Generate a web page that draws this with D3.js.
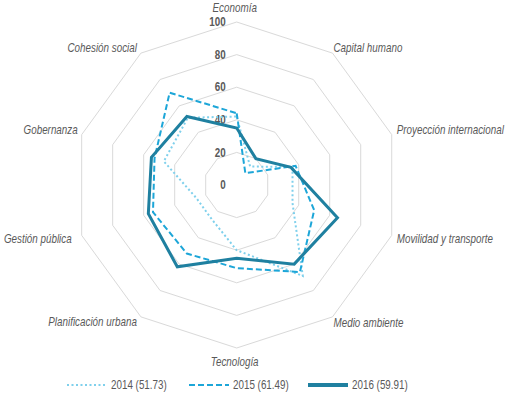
<!DOCTYPE html>
<html><head><meta charset="utf-8">
<script src="https://cdn.jsdelivr.net/npm/d3@7"></script>
<style>
html,body{margin:0;padding:0;background:#fff;}
svg{display:block;}
</style></head>
<body>
<svg id="chart" width="509" height="394"></svg>
<script>
const categories = ["Economía","Capital humano","Proyección internacional","Movilidad y transporte","Medio ambiente","Tecnología","Planificación urbana","Gestión pública","Gobernanza","Cohesión social"];
const v2014 = [42, 14, 36, 36, 69, 40, 26, 26, 47, 51];
const v2015 = [44, 9, 38, 50, 66, 51, 52, 54, 53, 70];
const v2016 = [35, 20, 35, 65, 60, 45, 62, 57, 55, 52];
const seriesNames = ["2014 (51.73)", "2015 (61.49)", "2016 (59.91)"];
const tickValues = [0, 20, 40, 60, 80, 100];

const W = 509, H = 394;
const cx = 236.7, cy = 185, R = 163;
const SX = 0.82; // horizontal condensing (Arial Narrow look)
const font = "'Liberation Sans',Arial,sans-serif";
const svg = d3.select("#chart");

const r = d3.scaleLinear().domain([0, 100]).range([0, R]);
const angle = d3.scalePoint().domain(categories).range([0, 2*Math.PI*(categories.length-1)/categories.length]);
const pt = (cat, v) => [cx + r(v)*Math.sin(angle(cat)), cy - r(v)*Math.cos(angle(cat))];

function narrowText(parent, x, y, txt, opts) {
  return parent.append("text")
    .attr("transform", `translate(${x},${y}) scale(${SX},1)`)
    .attr("dy", "0.35em")
    .attr("text-anchor", opts.anchor || "start")
    .attr("font-family", font)
    .attr("font-size", opts.size || 12)
    .attr("font-weight", opts.weight || "normal")
    .attr("font-style", opts.style || "normal")
    .attr("fill", "#595959")
    .text(txt);
}

// grid rings
const ringLine = d3.line().curve(d3.curveLinearClosed);
tickValues.filter(t => t > 0).forEach(t => {
  svg.append("path")
    .attr("d", ringLine(categories.map(c => pt(c, t))))
    .attr("fill", "none").attr("stroke", "#d9d9d9").attr("stroke-width", 1);
});

// tick labels
tickValues.forEach(t => {
  narrowText(svg, cx - 11, cy - r(t), t, {anchor: "end", weight: "bold", size: 12});
});

// series
const series = [
  {name: seriesNames[0], values: v2014, color: "#7fd0ec", width: 2, dash: "2,2.5"},
  {name: seriesNames[1], values: v2015, color: "#1da6d8", width: 2, dash: "6,3"},
  {name: seriesNames[2], values: v2016, color: "#1f80a0", width: 3, dash: null}
];
series.forEach(s => {
  svg.append("path")
    .attr("d", ringLine(categories.map((c, i) => pt(c, s.values[i]))))
    .attr("fill", "none").attr("stroke", s.color).attr("stroke-width", s.width)
    .attr("stroke-dasharray", s.dash).attr("stroke-linejoin", "miter");
});

// axis labels
categories.forEach(c => {
  const a = angle(c);
  const [vx, vy] = pt(c, 100);
  const s = Math.sin(a);
  const up = Math.cos(a) > 0;
  let anchor = "middle", x = vx, y = vy;
  if (Math.abs(s) < 0.01) {
    x = vx - 2;
    y = up ? vy - 14 : vy + 14;
  } else if (s > 0) {
    anchor = "start";
    x = vx + (s > 0.9 ? 5 : 1);
    y = vy + (up ? -5 : (s > 0.9 ? 3 : 6));
  } else {
    anchor = "end";
    x = vx - (s < -0.9 ? (up ? 4 : 10) : 4);
    y = vy + (up ? -5 : (s < -0.9 ? 3 : 5));
  }
  narrowText(svg, x, y, c, {anchor, style: "italic", size: 12});
});

// legend
const legendX = [67, 189, 308];
series.forEach((s, i) => {
  const g = svg.append("g").attr("transform", `translate(${legendX[i]},385)`);
  g.append("line").attr("x1", 0).attr("x2", 40).attr("y1", 0).attr("y2", 0)
    .attr("stroke", s.color).attr("stroke-width", s.width + (i === 2 ? 1 : 0))
    .attr("stroke-dasharray", s.dash);
  narrowText(g, 44, 0, s.name, {size: 12});
});
</script>
</body></html>
